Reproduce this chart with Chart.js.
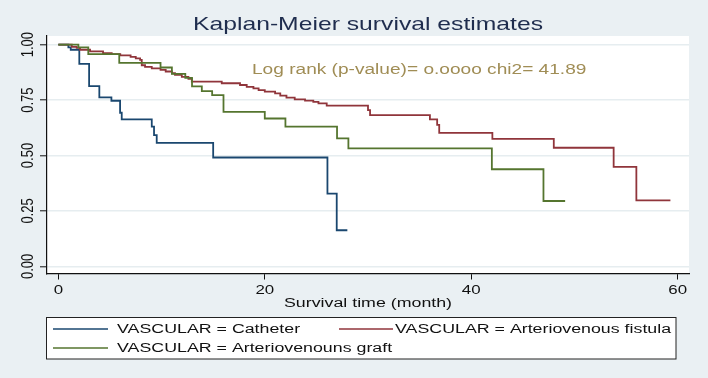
<!DOCTYPE html>
<html>
<head>
<meta charset="utf-8">
<script src="https://cdn.jsdelivr.net/npm/chart.js@4/dist/chart.umd.min.js"></script>
<style>
html,body{margin:0;padding:0;background:#eaf0f3;}
canvas{display:block;}
</style>
</head>
<body>
<canvas id="c" width="708" height="378"></canvas>
<script>
// ---- data ----
const chartTitle = "Kaplan-Meier survival estimates";
const xAxisTitle = "Survival time (month)";
const annotationText = "Log rank (p-value)= o.oooo chi2= 41.89";
const xTickValues = [0, 20, 40, 60];
const yTickValues = [0, 0.25, 0.5, 0.75, 1];

const catheterLabel = "VASCULAR = Catheter";
const catheterTime = [0, 0.97, 1.2, 2.03, 2.98, 3.97, 5.14, 5.98, 6.14, 9.05, 9.27, 9.53, 15.0, 26.07, 26.97, 28.0];
const catheterSurv = [1.0, 0.988, 0.977, 0.913, 0.813, 0.762, 0.747, 0.693, 0.663, 0.630, 0.592, 0.557, 0.491, 0.328, 0.163, 0.163];

const fistulaLabel = "VASCULAR = Arteriovenous fistula";
const fistulaTime = [0, 1.3, 1.78, 2.1, 3.07, 4.33, 5.17, 6.0, 7.0, 7.5, 7.92, 8.08, 8.4, 9.05, 9.9, 10.4, 11.0, 11.3, 11.96, 12.6, 12.93, 15.83, 17.6, 18.25, 18.9, 19.4, 20.0, 21.0, 21.5, 22.1, 22.9, 23.9, 24.7, 25.2, 26.0, 30.0, 30.2, 36.0, 36.7, 36.9, 42.05, 48.0, 53.8, 56.0, 59.3];
const fistulaSurv = [1.0, 0.99, 0.985, 0.977, 0.97, 0.962, 0.957, 0.952, 0.945, 0.938, 0.931, 0.907, 0.9, 0.893, 0.886, 0.879, 0.871, 0.864, 0.855, 0.846, 0.833, 0.826, 0.818, 0.81, 0.803, 0.795, 0.788, 0.78, 0.77, 0.761, 0.753, 0.748, 0.742, 0.735, 0.725, 0.705, 0.682, 0.663, 0.638, 0.602, 0.575, 0.535, 0.449, 0.298, 0.298];

const graftLabel = "VASCULAR = Arteriovenouns graft";
const graftTime = [0, 1.94, 2.9, 5.9, 9.9, 11.0, 12.3, 12.95, 13.9, 14.9, 16.0, 20.0, 22.0, 27.0, 28.1, 42.0, 47.0, 49.1];
const graftSurv = [1.0, 0.988, 0.957, 0.918, 0.897, 0.868, 0.85, 0.812, 0.79, 0.772, 0.697, 0.667, 0.63, 0.577, 0.532, 0.438, 0.295, 0.295];

// ---- styles ----
const BG = "#eaf0f3";
const C_BLUE = "#1a476f", C_RED = "#90353b", C_GREEN = "#55752f";
const SX = 1.3; // horizontal text stretch seen in the reference
const FONT = "'Liberation Sans', Arial, Helvetica, sans-serif";

function toPts(t, s) { return t.map((v, i) => ({x: v, y: s[i]})); }

function stretchedText(ctx, text, x, y, size, color, align, sx) {
  ctx.save();
  ctx.font = size + "px " + FONT;
  ctx.fillStyle = color;
  ctx.textBaseline = "middle";
  ctx.textAlign = align;
  ctx.translate(x, y);
  ctx.scale(sx, 1);
  ctx.fillText(text, 0, 0);
  ctx.restore();
}

const deco = {
  id: "deco",
  beforeDraw(chart) {
    const ctx = chart.ctx, a = chart.chartArea;
    ctx.save();
    ctx.fillStyle = BG;
    ctx.fillRect(0, 0, chart.width, chart.height);
    ctx.fillStyle = "#ffffff";
    ctx.fillRect(a.left, a.top, a.right - a.left, a.bottom - a.top);
    ctx.restore();
  },
  afterDraw(chart) {
    const ctx = chart.ctx, a = chart.chartArea;
    const xs = chart.scales.x, ys = chart.scales.y;
    const mid = (a.left + a.right) / 2;
    // title
    stretchedText(ctx, chartTitle, mid, 25, 19, "#1f2d4e", "center", SX);
    // annotation
    stretchedText(ctx, annotationText, 252, 70, 14.7, "#a08d55", "left", SX);
    // x tick labels
    xs.ticks.forEach(t => {
      stretchedText(ctx, String(t.value), xs.getPixelForValue(t.value), 290, 13, "#111", "center", SX);
    });
    // x title
    stretchedText(ctx, xAxisTitle, mid, 303, 13.7, "#111", "center", SX);
    // y tick labels (rotated)
    ys.ticks.forEach(t => {
      const py = ys.getPixelForValue(t.value);
      ctx.save();
      ctx.font = "13px " + FONT;
      ctx.fillStyle = "#111";
      ctx.textAlign = "center";
      ctx.textBaseline = "middle";
      ctx.translate(28, py);
      ctx.rotate(-Math.PI / 2);
      ctx.scale(1, SX);
      ctx.fillText(t.value.toFixed(2), 0, 0);
      ctx.restore();
    });
    // legend
    ctx.save();
    ctx.fillStyle = "#ffffff";
    ctx.fillRect(46.5, 317.5, 629.5, 41.5);
    ctx.strokeStyle = "#222";
    ctx.lineWidth = 1;
    ctx.strokeRect(46.5, 317.5, 629.5, 41.5);
    const items = [
      {c: C_BLUE, x1: 53, x2: 108, y: 329, tx: 117, label: catheterLabel},
      {c: C_RED, x1: 339, x2: 393, y: 329, tx: 395, label: fistulaLabel},
      {c: C_GREEN, x1: 53, x2: 108, y: 348, tx: 117, label: graftLabel}
    ];
    items.forEach(it => {
      ctx.strokeStyle = it.c;
      ctx.lineWidth = 1.6;
      ctx.beginPath();
      ctx.moveTo(it.x1, it.y);
      ctx.lineTo(it.x2, it.y);
      ctx.stroke();
      stretchedText(ctx, it.label, it.tx, it.y, 13.7, "#111", "left", SX);
    });
    ctx.restore();
  }
};

const ds = (label, t, s, c) => ({
  label, data: toPts(t, s), borderColor: c, backgroundColor: c,
  borderWidth: 1.8, pointRadius: 0, stepped: "before", fill: false, tension: 0
});

new Chart(document.getElementById("c"), {
  type: "line",
  data: {
    datasets: [
      ds(graftLabel, graftTime, graftSurv, C_GREEN),
      ds(fistulaLabel, fistulaTime, fistulaSurv, C_RED),
      ds(catheterLabel, catheterTime, catheterSurv, C_BLUE)
    ]
  },
  options: {
    responsive: false,
    animation: false,
    devicePixelRatio: 1,
    layout: {padding: {top: 36, right: 19, left: 0, bottom: 0}},
    plugins: {legend: {display: false}, title: {display: false}, tooltip: {enabled: false}},
    scales: {
      x: {
        type: "linear", min: -1.1, max: 61.1,
        afterBuildTicks: s => { s.ticks = xTickValues.map(v => ({value: v})); },
        ticks: {display: false, includeBounds: false},
        grid: {drawOnChartArea: false, drawTicks: true, tickLength: 6, tickColor: "#111", tickWidth: 1},
        border: {display: true, color: "#111", width: 1.2},
        afterFit: s => { s.height = 104.5; }
      },
      y: {
        type: "linear", min: -0.032, max: 1.039,
        afterBuildTicks: s => { s.ticks = yTickValues.map(v => ({value: v})); },
        ticks: {display: false, includeBounds: false},
        grid: {color: "#e6edf0", lineWidth: 1.6, drawTicks: true, tickLength: 7, tickColor: "#111", tickWidth: 1},
        border: {display: true, color: "#111", width: 1.2},
        afterFit: s => { s.width = 47; }
      }
    }
  },
  plugins: [deco]
});
</script>
</body>
</html>
